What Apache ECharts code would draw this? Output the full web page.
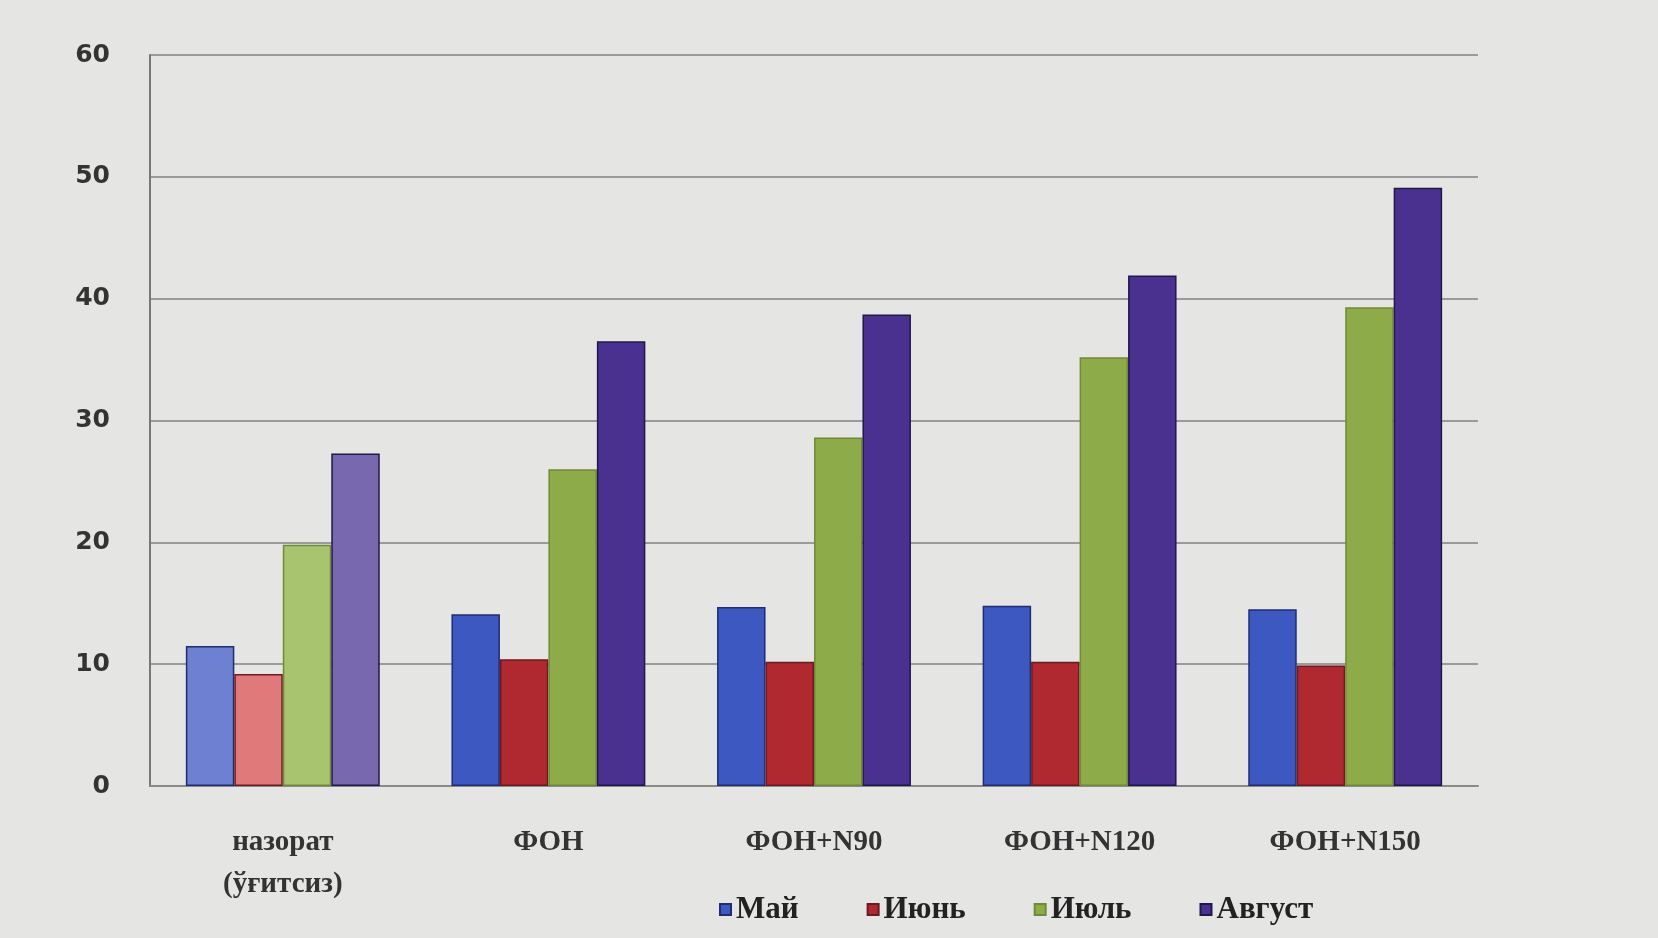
<!DOCTYPE html>
<html>
<head>
<meta charset="utf-8">
<script src="https://cdn.jsdelivr.net/npm/echarts@6/dist/echarts.min.js"></script>
<style>
html,body{margin:0;padding:0;background:#e5e5e3;}
#chart{width:1658px;height:938px;}
</style>
</head>
<body>
<div id="chart"></div>
<script>
// категориялар
var categories = ['назорат\n(ўғитсиз)', 'ФОН', 'ФОН+N90', 'ФОН+N120', 'ФОН+N150'];
var seriesNames = ['Май', 'Июнь', 'Июль', 'Август'];
// қийматлар
var mayData = [11.5, 14.1, 14.7, 14.8, 14.5];
var juneData = [9.2, 10.4, 10.2, 10.2, 9.9];
var julyData = [19.8, 26.0, 28.6, 35.2, 39.3];
var augustData = [27.3, 36.5, 38.7, 41.9, 49.1];
var yTicks = [0, 10, 20, 30, 40, 50, 60];

var colors = ['#3d58c0', '#b02830', '#8dab48', '#4a3190'];
var fadedColors = ['#6e80d2', '#e07a7a', '#a9c46e', '#7768b0'];
var borderColors = ['#1f2d70', '#6a1a20', '#6f8a38', '#20184a'];

function makeData(arr, idx){
	var out = [];
	for(var i=0;i<arr.length;i++){
		if(i==0){
			out.push({value: arr[i], itemStyle: {color: fadedColors[idx]}});
		}else{
			out.push(arr[i]);
		}
	}
	return out;
}

var allData = [mayData, juneData, julyData, augustData];
var series = [];
for(var s=0;s<seriesNames.length;s++){
	series.push({
		name: seriesNames[s],
		type: 'bar',
		barGap: '0%',
		barCategoryGap: '27%',
		itemStyle: {color: colors[s], borderColor: borderColors[s], borderWidth: 1.5},
		data: makeData(allData[s], s)
	});
}

var option = {
	backgroundColor: '#e5e5e3',
	color: colors,
	animation: false,
	grid: {left: 150, right: 180, top: 55, bottom: 152},
	legend: {
		data: seriesNames,
		bottom: 8,
		left: 714,
		itemWidth: 11,
		itemHeight: 11,
		itemGap: 68,
		icon: 'rect',
		textStyle: {fontFamily: 'Liberation Serif', fontSize: 31, fontWeight: 'bold', color: '#222'}
	},
	xAxis: {
		type: 'category',
		data: categories,
		axisLine: {show: true, lineStyle: {color: '#8a8a8a', width: 2}},
		axisTick: {show: false},
		axisLabel: {
			interval: 0,
			margin: 36,
			lineHeight: 42,
			fontFamily: 'Liberation Serif',
			fontSize: 29,
			fontWeight: 'bold',
			color: '#333'
		}
	},
	yAxis: {
		type: 'value',
		min: yTicks[0],
		max: yTicks[yTicks.length-1],
		interval: 10,
		axisLine: {show: true, lineStyle: {color: '#777', width: 2}},
		axisTick: {show: false},
		splitLine: {lineStyle: {color: '#9a9a9a', width: 2}},
		axisLabel: {
			margin: 40,
			fontFamily: 'DejaVu Sans',
			fontSize: 25,
			fontWeight: 'bold',
			color: '#333'
		}
	},
	series: series
};

var myChart = echarts.init(document.getElementById('chart'));
myChart.setOption(option);
</script>
</body>
</html>
